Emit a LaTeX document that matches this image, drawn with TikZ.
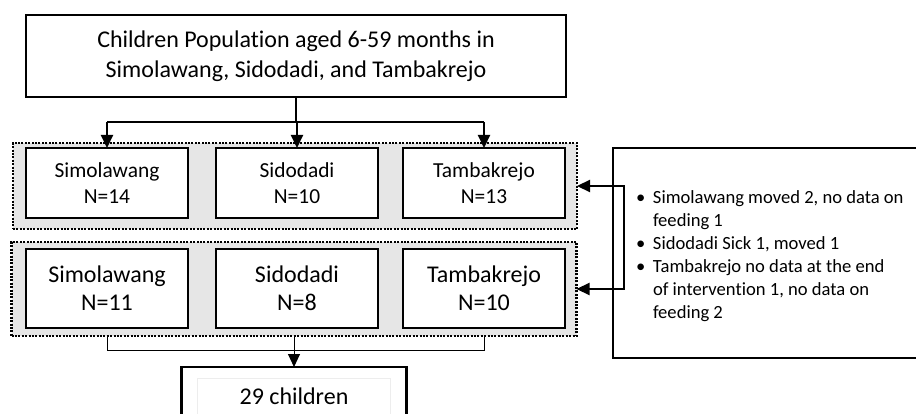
\documentclass[tikz,border=0pt]{standalone}
\usepackage{fontspec}
\setmainfont{Carlito}[Ligatures=NoCommon]
\usetikzlibrary{arrows.meta}
\definecolor{grpfill}{RGB}{230,230,230}
\begin{document}
\begin{tikzpicture}[x=1pt,y=-1pt,
  every node/.style={inner sep=0pt, outer sep=0pt},
  bigbox/.style={draw, line width=2pt, fill=white, align=center},
  cbox/.style={draw, line width=2.6pt, fill=white, align=center, minimum width=162pt},
  grp/.style={draw, line width=2.2pt, dash pattern=on 2pt off 1.4pt, fill=grpfill},
  tri/.style={-{Triangle[width=12pt,length=13pt]}},
  conn/.style={line width=2.2pt},
  thinconn/.style={line width=1pt}]
\useasboundingbox (0,0) rectangle (916,414);
\clip (0,0) rectangle (916,414);

% top box
\node[bigbox, minimum width=540pt, minimum height=82pt,
      font=\fontsize{24}{30}\selectfont] (top) at (296,56)
  {Children Population aged 6-59 months in\\Simolawang, Sidodadi, and Tambakrejo};

% groups
\node[grp, minimum width=564pt, minimum height=86pt] (g1) at (295,186) {};
\node[grp, minimum width=565pt, minimum height=94pt] (g2) at (294,289) {};

% row 1
\node[cbox, minimum height=70pt, font=\fontsize{21.4}{27.5}\selectfont] (b11) at (107,183) {\raisebox{-2pt}{Simolawang}\\N=14};
\node[cbox, minimum height=70pt, font=\fontsize{21.4}{27.5}\selectfont] (b12) at (297,183) {\raisebox{-2pt}{Sidodadi}\\N=10};
\node[cbox, minimum height=70pt, font=\fontsize{21.4}{27.5}\selectfont] (b13) at (484,183) {\raisebox{-2pt}{Tambakrejo}\\N=13};

% row 2
\node[cbox, minimum height=79pt, font=\fontsize{24}{28}\selectfont] (b21) at (107,288.5) {Simolawang\\N=11};
\node[cbox, minimum height=79pt, font=\fontsize{24}{28}\selectfont] (b22) at (297,288.5) {Sidodadi\\N=8};
\node[cbox, minimum height=79pt, font=\fontsize{24}{28}\selectfont] (b23) at (484,288.5) {Tambakrejo\\N=10};

% bottom box (extends beyond the page)
\node[draw, line width=2.4pt, fill=white, minimum width=225pt, minimum height=70pt, anchor=north] (kid) at (294,367) {};
\draw[black!7, line width=0.6pt] (197,378) rectangle (390,420);
\node[font=\fontsize{24}{28}\selectfont] (kidtxt) at (294,396) {29 children};

% note box (extends beyond the page)
\node[draw, line width=2pt, fill=white, minimum width=320pt, minimum height=210pt, anchor=north west] (note) at (613,148) {};
\node[anchor=west, font=\fontsize{18.6}{23}\selectfont] (notetxt) at (636,256)
 {\begin{tabular}{@{}l@{}l@{}}
  \makebox[17pt][l]{•} & Simolawang moved 2, no data on\\
   & feeding 1\\
  \makebox[17pt][l]{•} & Sidodadi Sick 1, moved 1\\
  \makebox[17pt][l]{•} & Tambakrejo no data at the end\\
   & of intervention 1, no data on\\
   & feeding 2
 \end{tabular}};

% top connectors
\coordinate (h1) at (0,122);
\draw[conn] (top.south) -- (top.south |- h1);
\draw[conn] (b11 |- h1) -- (b13 |- h1);
\draw[conn, tri] (b11 |- h1) -- (b11.north);
\draw[conn, tri] (b12 |- h1) -- (b12.north);
\draw[conn, tri] (b13 |- h1) -- (b13.north);

% bottom connectors
\coordinate (h2) at (0,350);
\draw[thinconn] (b21 |- g2.south) -- (b21 |- h2) -- (b23 |- h2) -- (b23 |- g2.south);
\draw[thinconn, tri] (kid |- g2.south) -- (kid.north);

% note connectors
\coordinate (jx) at (624,0);
\draw[conn, {Triangle[width=12pt,length=13pt]}-{Triangle[width=12pt,length=13pt]}]
  (g1.east) -- (g1.east -| jx) -- (g2.east -| jx) -- (g2.east);
\end{tikzpicture}
\end{document}
